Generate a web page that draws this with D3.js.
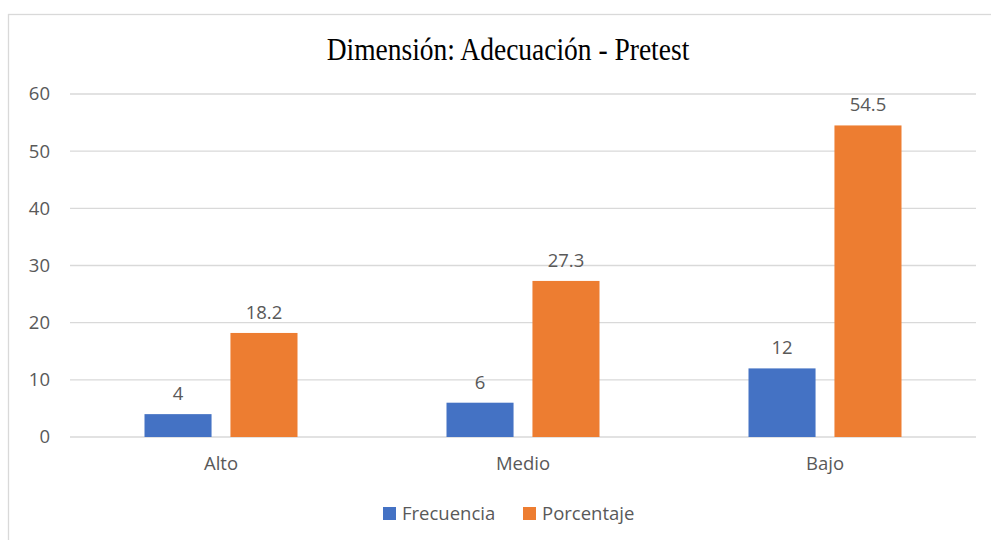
<!DOCTYPE html>
<html>
<head>
<meta charset="utf-8">
<script src="https://cdn.jsdelivr.net/npm/d3@7"></script>
<style>
  body { margin: 0; background: #fff; }
  text { font-family: "Open Sans", "Noto Sans", sans-serif; fill: #595959; }
  .grid line { stroke: #d9d9d9; stroke-width: 1.3; }
</style>
</head>
<body>
<div id="chart"></div>
<script>
// data
var categories = ["Alto", "Medio", "Bajo"];
var seriesNames = ["Frecuencia", "Porcentaje"];
var frecuencia = [4, 6, 12];
var porcentaje = [18.2, 27.3, 54.5];
var yTicks = [0, 10, 20, 30, 40, 50, 60];
var colors = ["#4472c4", "#ed7d31"];

var fullWidth = 991, fullHeight = 540;
var margin = {top: 94, right: 15, bottom: 103, left: 70};
var width = fullWidth - margin.left - margin.right,
    height = fullHeight - margin.top - margin.bottom;
var fontSize = "18.5px";

var svg = d3.select("#chart").append("svg")
    .attr("width", fullWidth)
    .attr("height", fullHeight);

// chart area border
svg.append("rect")
    .attr("x", 8.5).attr("y", 14.5)
    .attr("width", fullWidth + 20).attr("height", fullHeight + 20)
    .attr("fill", "none")
    .attr("stroke", "#d9d9d9")
    .attr("stroke-width", 1.3);

// title (slightly stretched vertically like the original)
svg.append("text")
    .attr("transform", "translate(508,60) scale(1,1.14)")
    .attr("text-anchor", "middle")
    .style("font-family", "'Liberation Serif', 'Times New Roman', serif")
    .style("font-size", "27.5px")
    .style("fill", "#000")
    .text("Dimensión: Adecuación - Pretest");

var g = svg.append("g")
    .attr("transform", "translate(" + margin.left + "," + margin.top + ")");

var x0 = d3.scaleBand().domain(categories).range([0, width]);
var x1 = d3.scaleBand().domain(seriesNames).range([74.5, x0.bandwidth() - 74.5]).paddingInner(0.22);
var y = d3.scaleLinear().domain([0, 60]).range([height, 0]);

// gridlines
g.append("g").attr("class", "grid")
  .selectAll("line").data(yTicks).enter().append("line")
    .attr("x1", 0).attr("x2", width)
    .attr("y1", function(d) { return y(d); })
    .attr("y2", function(d) { return y(d); });

// y axis labels
var yAxis = d3.axisLeft(y).tickValues(yTicks).tickSize(0).tickPadding(20);
g.append("g").call(yAxis)
    .call(function(s) { s.select(".domain").remove(); })
    .selectAll("text")
    .style("font-size", fontSize)
    .style("fill", "#595959")
    .style("font-family", "'Open Sans', sans-serif");

// x axis labels
var xAxis = d3.axisBottom(x0).tickSize(0).tickPadding(20);
g.append("g").attr("transform", "translate(0," + height + ")").call(xAxis)
    .call(function(s) { s.select(".domain").remove(); })
    .selectAll("text")
    .style("font-size", fontSize)
    .style("fill", "#595959")
    .style("font-family", "'Open Sans', sans-serif");

var rows = categories.map(function(c, i) {
  return {cat: c, values: [frecuencia[i], porcentaje[i]]};
});

var groups = g.selectAll(".cat").data(rows).enter().append("g")
    .attr("transform", function(d) { return "translate(" + x0(d.cat) + ",0)"; });

groups.selectAll("rect").data(function(d) { return d.values; }).enter().append("rect")
    .attr("x", function(d, i) { return x1(seriesNames[i]); })
    .attr("y", function(d) { return y(d); })
    .attr("width", x1.bandwidth())
    .attr("height", function(d) { return height - y(d); })
    .attr("fill", function(d, i) { return colors[i]; });

groups.selectAll(".lbl").data(function(d) { return d.values; }).enter().append("text")
    .attr("class", "lbl")
    .attr("x", function(d, i) { return x1(seriesNames[i]) + x1.bandwidth() / 2; })
    .attr("y", function(d) { return y(d) - 14; })
    .attr("text-anchor", "middle")
    .style("font-size", fontSize)
    .text(function(d) { return d; });

// legend
var legend = svg.append("g").attr("transform", "translate(383,507)");
var legendX = [0, 140];
seriesNames.forEach(function(name, i) {
  var item = legend.append("g").attr("transform", "translate(" + legendX[i] + ",0)");
  item.append("rect").attr("width", 13).attr("height", 13).attr("fill", colors[i]);
  item.append("text").attr("x", 19).attr("y", 13)
      .style("font-size", fontSize)
      .text(name);
});
</script>
</body>
</html>
